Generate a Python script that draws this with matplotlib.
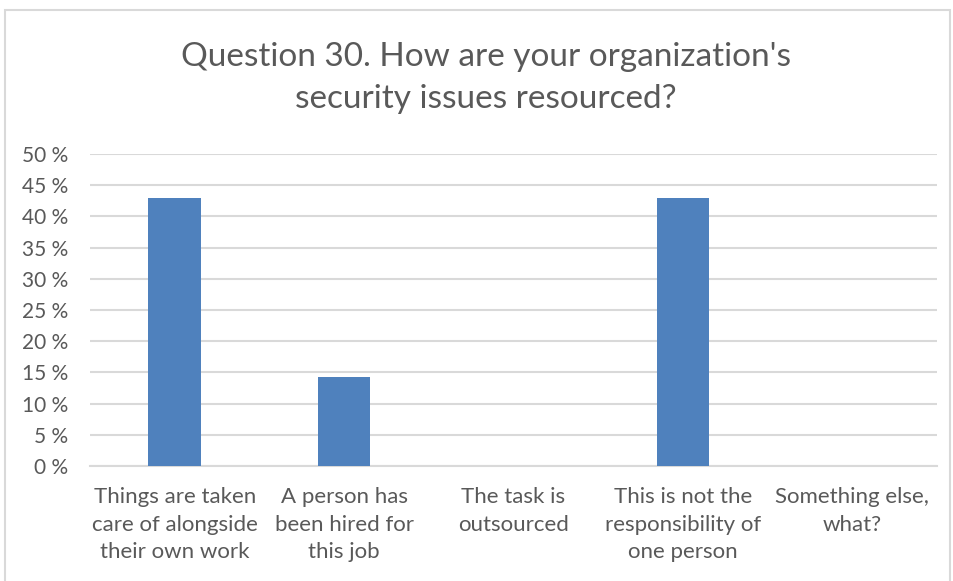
import matplotlib.pyplot as plt
from matplotlib.patches import Rectangle
from matplotlib.ticker import FuncFormatter, MultipleLocator

categories = [
    "Things are taken\ncare of alongside\ntheir own work",
    "A person has\nbeen hired for\nthis job",
    "The task is\noutsourced",
    "This is not the\nresponsibility of\none person",
    "Something else,\nwhat?",
]
shares = [42.9, 14.3, 0.0, 42.9, 0.0]

title = "Question 30. How are your organization's\nsecurity issues resourced?"

text_col = "#595959"
grid_col = "#d9d9d9"
bar_col = "#4f81bd"

plt.rcParams['font.family'] = ['Lato', 'DejaVu Sans']

fig = plt.figure(figsize=(9.54, 5.81), dpi=100)
W, H = 954, 581

# light frame around the chart area
fig.patches.append(Rectangle((5 / W, -0.05), 945 / W, 1.05 - 10 / H,
                             transform=fig.transFigure, fill=False,
                             edgecolor="#d9d9d9", linewidth=1.5))

ax = fig.add_axes([90 / W, 1 - 466 / H, (937 - 90) / W, (466 - 154) / H])

x = range(len(categories))
ax.bar(x, shares, width=0.31, color=bar_col, zorder=3)

ax.set_ylim(0, 50)
ax.set_xlim(-0.5, len(categories) - 0.5)
ax.yaxis.set_major_locator(MultipleLocator(5))
ax.yaxis.set_major_formatter(FuncFormatter(lambda v, p: f"{int(v)} %"))
ax.grid(axis="y", color=grid_col, linewidth=1.5, zorder=0)

ax.set_xticks(list(x))
ax.set_xticklabels(categories, fontsize=16, color=text_col, linespacing=1.48)
ax.tick_params(axis="y", labelsize=15, labelcolor=text_col, length=0, pad=16)
ax.tick_params(axis="x", length=0, pad=15)

for s in ["top", "right", "left"]:
    ax.spines[s].set_visible(False)
ax.spines["bottom"].set_color(grid_col)
ax.spines["bottom"].set_linewidth(1.5)

fig.text(486 / W, 1 - 78 / H, title, ha="center", va="center",
         fontsize=24, color=text_col, linespacing=1.5)

fig.savefig("out.png", dpi=100)
